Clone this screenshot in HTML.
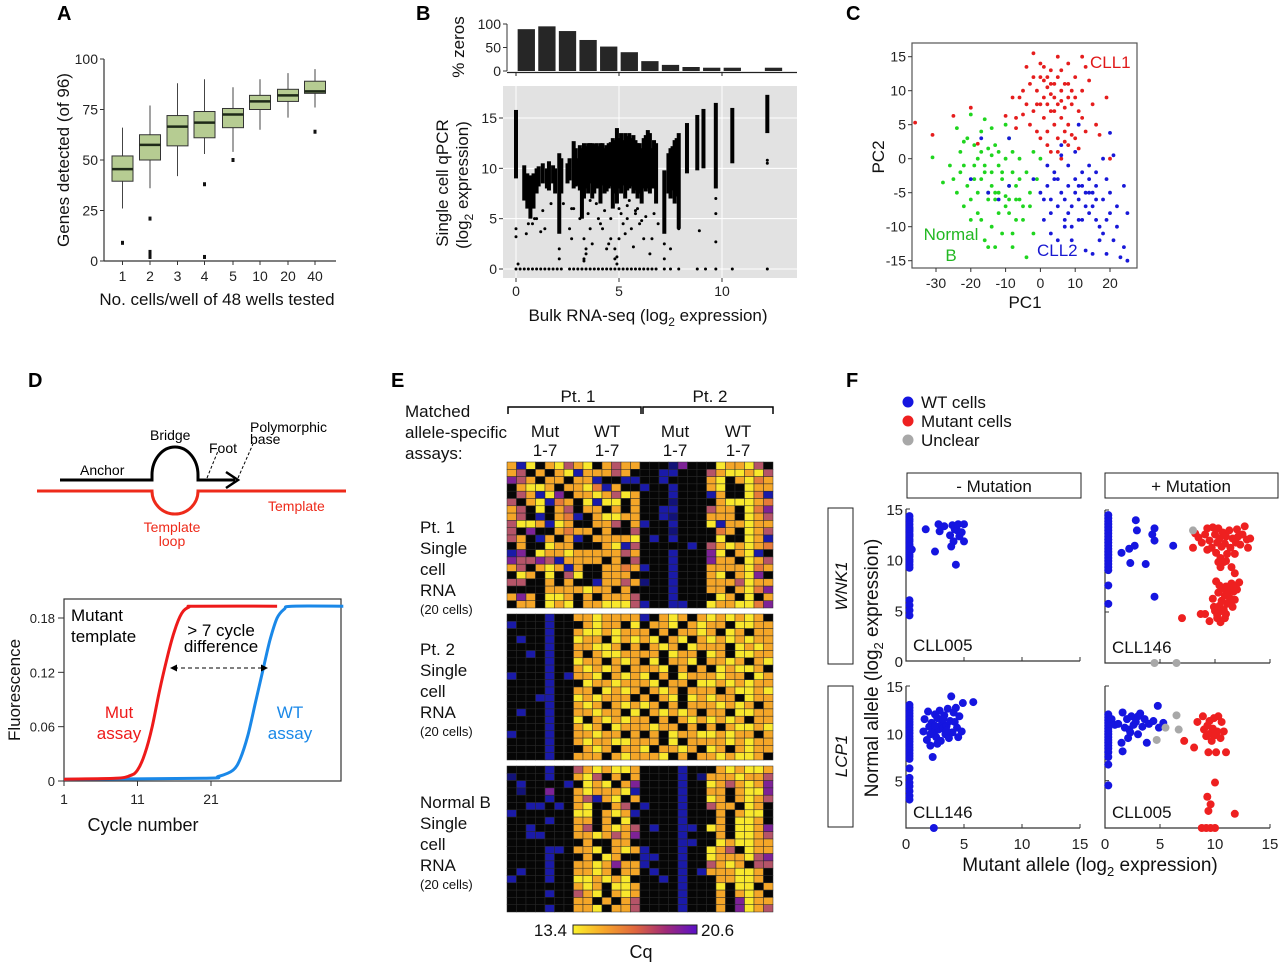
<!DOCTYPE html>
<html><head><meta charset="utf-8"><style>
html,body{margin:0;padding:0;background:#fff}
svg{display:block;font-family:"Liberation Sans",Arial,sans-serif}
</style></head><body>
<svg id="fig" width="1280" height="963" viewBox="0 0 1280 963" xmlns="http://www.w3.org/2000/svg">
<g font-weight="bold" font-size="20" fill="#000">
<text x="57" y="20">A</text>
<text x="416" y="20">B</text>
<text x="846" y="20">C</text>
<text x="28" y="387">D</text>
<text x="391" y="387">E</text>
<text x="846" y="387">F</text>
</g>
<g id="pA"></g>
<g id="pB"></g>
<g id="pC"></g>
<g id="pD"></g>
<g id="pE"></g>
<g id="pF"></g>
</svg>
<script>
// ---------- Panel A data ----------
const aCats=["1","2","3","4","5","10","20","40"];
const aQ1=[39.5,50,57,61,66,75,79,83];
const aMed=[45.5,57.5,66.5,68.5,72.5,79,82,84];
const aQ3=[52,62.5,72,74,75.5,82,85,89];
const aLo=[26,36,42,53,54,65,71,76];
const aHi=[66,77,88,90,86,90,93,95];
const aOut=[[9],[21,4.5,3,2],[],[38,2],[50],[],[],[64]];
const aTicks=[0,25,50,75,100];
// ---------- Panel B data ----------
const bBarX=[0,1,2,3,4,5,6,7,8,9,10,12];
const bBarPct=[89,95,85,66,52,40,21,13,8.5,7,7,7];
const bColX=[0,0.4,0.7,1.0,1.3,1.6,1.9,2.1,2.2,2.8,3.0,3.2,3.3,3.5,3.7,3.9,4.1,4.3,4.5,4.7,4.9,5.1,5.3,5.5,5.7,5.9,6.1,6.4,6.6,6.8,7.2,7.5,7.7,7.9,8.3,8.8,9.1,9.7,10.5,12.2,
 2.5,2.6,2.9,3.1,3.4,3.6,3.8,4.0,4.2,4.4,4.6,4.8,5.0,5.2,5.4,5.6,5.8,6.0,6.2,6.3,6.5,6.7,7.4,7.6,7.8,1.1,1.5,1.8,0.55,0.85];
const bColLo=[9,6.8,5,7.5,8.5,7.8,7.5,3.5,7.5,8,8.3,5,7,7.5,7,8,6.5,7.5,8,6,6.5,7.5,7,8,7.5,7,6.5,8,8,6.5,3.5,7,6.5,4,9.5,9.8,10,8,10.5,13.5,
 8.5,8.8,8.2,7.8,8,8.5,7.5,8,8.3,7.7,8.2,7.5,8,8.3,7.8,8.2,7.8,7.5,8,7.7,7.5,8,7.5,7.8,7.2,8.2,8,8.5,6,6];
const bColHi=[15.8,10.3,9.3,10,10.5,10.7,10,11.5,11,12.7,11,12,12.5,12.5,12.5,12.5,12.5,12,12.5,13,14,13.5,13.5,13.5,13.3,12.5,12,13.8,12,12.5,9.8,12,12.8,13.5,14.5,15.3,15.9,16.5,16,17.3,
 10.5,11,12,12.3,12.2,12.5,12.4,12.2,12.5,12.3,12.6,12.8,13,12.8,13.2,13,12.8,12.5,13,13.3,13.5,12.8,11.5,12.2,13,10.2,10,10.3,9.5,9.5];
const bPtX=[0,0,0.1,0.5,0.6,0.9,1.2,1.4,2.1,2.1,2.6,2.7,2.8,3.1,3.3,3.3,3.4,3.5,3.6,4.0,4.2,4.4,4.6,4.8,4.8,4.9,5.0,5.2,5.4,5.6,5.8,6.0,6.2,6.5,6.6,6.9,7.2,7.2,7.5,7.9,8.9,9.7,9.7,9.7,12.2,12.2,3.4,4.5,4.9,5.3,6.1,2.7,3.3,1.0,3.7,5.7,3.9,4.3,4.7,5.1,5.5,5.9,6.3,3.6,4.1,4.6,5.0,5.4,5.8,6.7,2.3,1.7,0.8,1.3];
const bPtY=[3.2,4,0.5,3.5,4.5,5,3.7,4,1,2,4,6,6,5,3,1,2,5.5,4,5,4,2,3,2,1,0.5,3,4.5,5,4,5.5,4.5,3,1.5,3,4.5,1,2.5,2,4,3.8,2.7,5.5,7,10.5,10.8,1.5,2.5,1.2,3.5,4.8,3,0.8,5,2.5,2.2,6.5,5.8,6.2,5.5,6.8,6,5.2,6.8,4.5,5,6,6.3,5.8,5.5,6.5,6.5,4.5,5.8];
const bZeroX=[0,0.2,0.4,0.6,0.8,1.0,1.2,1.4,1.6,1.8,2.0,2.2,2.6,2.8,3.0,3.2,3.4,3.6,3.8,4.0,4.2,4.4,4.6,4.8,5.0,5.2,5.4,5.6,5.8,6.0,6.2,6.4,6.6,6.8,7.2,7.5,7.9,8.8,9.2,9.7,10.5,12.2];
// ---------- Panel C data ----------
const cRed=[[-2,15.5],[-4,13.5],[0,14],[2,12],[3,13],[5,15],[8,14],[12,15],[13,13.5],[-5,10],[-3,11],[-1,10],[0,12],[1,9],[2,10.5],[3,11],[4,9],[5,12],[6,10],[7,11],[8,9],[9,10],[10,12],[-6,9],[-4,8],[-2,7],[0,8],[1,6],[3,7],[4,5],[5,8],[6,6],[7,7.5],[8,5],[9,8],[11,7],[12,6],[14,11.5],[15,8],[16,5],[19,9],[-8,9],[-7,6],[-3,5],[-1,4],[0,3],[2,4],[5,3],[7,4],[8,2],[10,3],[3,1],[5,1],[6,0],[9,3.5],[17,3.5],[-36,5.3],[-31,3.5],[-25,6.3],[-20,7.5],[-18,2.2],[-10,6.3],[-7,4.5],[2,2],[4,11],[6,13],[1,11.5],[-1,8],[7,2.5],[20,0],[13,4],[11,1.5],[3,9.5],[2,8],[4,7],[-2,12],[1,13.5],[6,8.5],[8,11],[-5,6.5],[10,9],[12,10]];
const cGreen=[[-31,0.2],[-28,-3.5],[-24,4.5],[-23,1],[-22,-1],[-21,3],[-20,6.5],[-19,-3],[-18,0],[-17,4],[-16,5.8],[-16,-2],[-15,1.5],[-14,-4],[-13,-5],[-13,2],[-12,-1],[-11,-3],[-10,0],[-9,-6],[-9,3],[-8,-2],[-7,-4],[-6,0],[-5,-7],[-4,-2],[-3,-5],[-22,-7],[-20,-9],[-18,-5],[-17,-9],[-15,-6],[-14,-10],[-12,-8],[-11,-11],[-10,-5.5],[-8,-11],[-7,-6],[-6,-3],[-16,-12],[-15,-13],[-8,-13],[-4,-14.5],[-2,1],[0,0],[-1,-3],[-19,2],[-21,-4],[-23,-2],[-25,-3],[-14,4.5],[-10,5],[-12,-5],[-13,-6],[-15,-5],[-11,-2],[-9,-4],[-16,-1],[-17,1],[-5,-9],[-2,-11],[-20,-6],[-18,-8],[-24,-5],[-26,-1],[-13,-13],[-3,-7],[-7,-9],[-9,-8],[-14,-2],[-12,1],[-17,-3],[-10,-7],[-6,-6],[-19,-1],[-14,0.5],[-8,1],[-22,2.5]];
const cBlue=[[0,-5],[1,-6],[2,-4],[3,-8],[4,-3],[5,-7],[6,-5],[7,-9],[8,-4],[9,-7],[10,-3],[11,-6],[12,-9],[13,-5],[14,-3],[15,-7],[16,-4],[17,-10],[18,-6],[19,-9],[20,-5],[22,-7],[24,-4],[25,-8],[3,-11],[5,-12],[7,-10],[9,-12],[13,-13.5],[15,-14],[17,-12],[19,-14],[21,-12],[23,-14.5],[25,-15],[24,-13],[2,-1],[4,-2],[6,0.5],[8,-1],[10,1],[12,-2],[14,-1],[16,-2],[18,0],[21,0.5],[20,3.8],[11,5],[6,2],[1,-9],[3,-6],[11,-9],[13,-7],[15,-5],[14,-8],[18,-11],[22,-10],[16,-9],[10,-5],[8,-8],[-20,-3],[-15,-5],[-12,-6],[-9,-4],[-17,3],[-9,3],[-2,-3],[5,-3],[7,-6],[12,-4],[19,-3],[14,-5],[16,-6],[11,-4],[9,-10],[20,-8]];
// ---------- Panel D data ----------
const dMutCyc=[1,8,10,11,12,13,14,15,16,17,18,19,30];
const dMutF=[0.002,0.003,0.006,0.012,0.03,0.06,0.1,0.135,0.165,0.185,0.192,0.193,0.193];
const dWtCyc=[1,20,22,24,25,26,27,28,29,30,31,32,39];
const dWtF=[0.002,0.003,0.005,0.012,0.025,0.05,0.085,0.12,0.155,0.18,0.19,0.193,0.193];
// ---------- Panel E data ----------
const eBlock1=["oby0oym|oy0omoo|000Bp00|0yooym0","om0o0oy|booomo0|00bb000|moyyoym","pmo0oo0|oob00bb|00b0000|oy0oyro","0oyyo0o|oyrbo00|b00b000|oy00yoo","0mobyp0|ooyomyo|000b000|bo00yrb","m0oybro|0ybyy0o|000B000|0oyyyor","om0y0om|0oo0o0o|00bb000|moo0yrp","om0b0or|b0oyyoo|00bB000|ooo0yom","myyobyo|00oom0o|b00b000|ybooyoo","m0p00or|oo0o00m|000B000|0ro0yom","mo0bo0o|b0ooooy|0b0b000|0y00yob","0o00yoo|000oybm|00000b0|moyoyor","bp0yooy|ooooomo|000b000|py0oyb0","pmmpmbo|ooo0o0m|000b000|poo0yom","om0oyob|o00ooro|b00b000|ooooyro","0yo0y0m|y00ooo0|000b000|oy0oyp0","mm00o0o|00boomo|B00b000|ooomyoo","0000ooo|oyoo0o0|000b000|oo0oyrp","opo0yyo|0o0ooom|000b000|0yo0y0o","0oo0yoy|0ooyyym|b00bb00|yooyyrp"];
const eBlock2=["0000b00|ooyoooo|b0oyo0o|yoyoyo0","b000b00|0oyoo0y|0ooy0oy|oo0yyoo","0000b00|oyyoyoo|o0o0ooy|o0yo0oo","0b00b00|yoo0yoy|oy0oy0o|yoyoyoo","0000b00|ooyyo0o|0oyo0yo|oo0yoyo","00b0b00|o0oyyoo|oo0yoo0|yo0yyoo","0000b00|yoo0oyo|0y0ooy0|ooyo0oy","0000b00|oyoyo0o|ooy0o0o|0yoyyo0","b000b0b|ooy0oyo|y0o0yoo|oyoo0yo","0000b00|0yooyoo|oy0oo0y|yoyoyoo","0000b00|oo0yoyo|0oyo0oo|o0oyyoy","000bb00|yoyooo0|o0oy0yo|yoo0yoo","0000b00|oyo0oyo|yo0o0oo|oyoyo0o","0b00b00|ooyoo0y|0oyoyo0|oo0yyoo","0000b00|y0oyoyo|o0o0oyo|yoyo0oo","0000b00|oyo0yoo|oyoo0o0|o0oyyoy","b000b00|ooyoo0o|0o0yooy|yoyoo0o","0000b00|oyooyyo|oo0y0oo|ooyoyoo","0000b00|0oyo0oo|y0ooyo0|yo0oyoo","0000b00|ooo0oyo|ooy0o0o|oyoyyo0"];
const eBlock3=["0000b00|moyoyyo|0000b00|0oyoyyo","B000b00|oym0o0o|0000b0B|oooyoom","0b0000b|0yoy0op|0000b00|yomoyop","0B00p00|oyoooyb|0000b00|oo0oyyp","0000b00|omboy0o|0000b00|yo0oyom","00bb0b0|oy00om0|b000b00|moo0yo0","b000000|yy0oyob|0000b00|0o0oyy0","0000b00|oo0o0y0|0000b00|0o0yyo0","00b0000|om0oyom|0b00bb0|yo0yyop","00bb000|ooyomop|0000b00|0o0yyom","0000000|0o00oo0|0000bb0|0yoyyoo","0000bb0|ooy0oyo|b000b00|yom0yoo","0000b00|0o0yo00|bb00b00|yoooymp","0000b00|ooyopoo|b000b00|moyo0mm","0b00b00|ooyo0oo|0b00b0b|oooyyo0","b000b00|yyoyoy0|00b0b00|0ooyyo0","0000000|oyo0yyo|0000b00|0y0yy0o","0000b00|moy0oyo|0000b00|0o0oyo0","0000000|oo0o0om|0000b00|0o0pyoo","0000b00|ooy0oom|0000b00|0o0pyom"];
// ---------- Panel F data ----------
const fWnkNegBlue=[[0,14.3],[0,14],[0,13.8],[0,13.5],[0,13.2],[0,13],[0,12.8],[0,12.5],[0,12.3],[0,12],[0,11.8],[0,11.5],[0,11.3],[0,11],[0,10.8],[0,10.5],[0,10.3],[0,10],[0,9.8],[0,9.5],[0,9.2],[0,6],[0,5.5],[0,5],[0,4.5],[0.5,11],[1.7,13],[2.5,10.8],[2.8,13.5],[2.9,12.8],[3.3,13.3],[3.8,12.4],[4,13.4],[4.1,11.8],[4.2,13],[4.3,9.5],[4.4,12.9],[4.5,13.5],[4.8,12.7],[5,11.8],[5,13.5],[4.6,12.3],[3.9,11.3]];
const fWnkPosBlue=[[0,14.5],[0,14.2],[0,13.9],[0,13.6],[0,13.3],[0,13],[0,12.7],[0,12.4],[0,12.1],[0,11.8],[0,11.5],[0,11.2],[0,10.9],[0,10.6],[0,10.3],[0,10],[0,9.7],[0,9.4],[0,9.1],[0,7.6],[0,5.8],[1.5,10.8],[2.2,11.2],[2.3,9.8],[2.7,11.5],[2.8,14],[2.9,13],[3.7,9.7],[4.3,12.6],[4.5,13.2],[4.5,12],[4.5,6.5],[6.2,11.5]];
const fWnkPosGrey=[[8,13],[4.5,0],[6.5,0]];
const fWnkPosRed=[[8,11.3],[8.2,12.7],[8.5,12.3],[8.8,11.8],[9.1,12.6],[9.3,13.2],[9.5,12],[9.7,11.3],[9.8,13.3],[10,12.6],[10.1,10.8],[10.2,11.8],[10.3,13.2],[10.4,12.2],[10.5,10.3],[10.6,11.4],[10.7,12.8],[10.8,9.9],[10.9,11.7],[11,12.4],[11.1,10.7],[11.3,13],[11.4,11.3],[11.5,9.4],[11.6,12.2],[11.8,10.7],[11.9,11.8],[12,13.1],[12.1,12.4],[12.3,11.6],[12.5,12.6],[12.7,13.4],[12.9,12.1],[13,11.3],[13.2,12.2],[10.5,9.4],[11,10],[9.3,11.1],[11.8,8.8],[10.3,9.9],
[7,4.4],[8.7,4.8],[9.1,4.8],[9.5,4.1],[9.8,6.3],[10,5.1],[10.1,8],[10.2,4.4],[10.3,6.9],[10.4,5.6],[10.5,4],[10.6,6.1],[10.7,7.3],[10.8,5.2],[10.9,6.6],[11,7.5],[11.1,5.8],[11.2,6.9],[11.3,7.2],[11.4,6.3],[11.5,7.8],[11.6,5.5],[11.7,7],[11.8,6.2],[11.9,7.6],[12,7.2],[12.2,7.9],[10.2,4.7],[10.6,5.1],[11,4.8],[11.3,6],[10.4,7.6],[11.7,7.4],[10.9,4.4],[9.9,5.5]];
const fLcpNegBlue=[[0,13],[0,12.7],[0,12.4],[0,12.1],[0,11.8],[0,11.5],[0,11.2],[0,10.9],[0,10.6],[0,10.3],[0,10],[0,9.7],[0,9.4],[0,9.1],[0,8.8],[0,8.5],[0,8.2],[0,7.9],[0,7.6],[0,7.3],[0,6.3],[0,5.3],[0,4.8],[0,4.4],[0,3.9],[0,3.4],[0,3],[2.4,0],
[1.5,10.2],[1.6,11.5],[1.8,9.3],[1.9,12.3],[2,10.7],[2.1,8.7],[2.2,11.1],[2.3,7.5],[2.4,10.1],[2.5,12],[2.6,9.6],[2.7,11.6],[2.8,10.4],[2.9,12.4],[3,9.2],[3.1,11],[3.2,10.5],[3.3,11.9],[3.4,9.9],[3.5,10.8],[3.6,12.6],[3.7,9.5],[3.8,11.3],[3.9,13.9],[4,10.1],[4.1,12.2],[4.2,11.2],[4.3,12.7],[4.4,10.6],[4.5,9.6],[4.6,11.8],[4.8,10.2],[4.9,13.2],[5.8,13.3],[2.1,9.9],[2.7,8.9],[3.2,11.5],[2.5,10.8],[3.5,10.3]];
const fLcpPosBlue=[[0,12],[0,11.7],[0,11.4],[0,11.1],[0,10.8],[0,10.5],[0,10.2],[0,9.9],[0,9.6],[0,9.3],[0,9],[0,8.7],[0,8.4],[0,8],[0,7.5],[0,6.7],[0,4.5],[0.6,11.5],[0.9,10.9],[1.2,11],[1.5,9],[1.6,12.2],[1.6,8.1],[1.8,10.6],[2,11.5],[2.1,9.5],[2.2,10.4],[2.4,11.8],[2.6,10.9],[2.8,11.2],[3,9.9],[3.2,12.1],[3.4,10.7],[3.6,11.5],[3.8,9],[4,11],[4.4,11.3],[4.8,12.9],[4.9,10.6],[5.3,11.1],[3,11.8],[2.3,10.1]];
const fLcpPosGrey=[[4.7,9.3],[5.5,10.6],[6.5,11.9],[6.7,10.4]];
const fLcpPosRed=[[7.2,9.2],[8.1,8.5],[8.4,11.2],[8.9,11.8],[9,10.4],[9.2,9.7],[9.3,10.8],[9.5,11.3],[9.6,10],[9.7,9.2],[9.8,10.5],[9.9,11.6],[10,9.8],[10.1,8],[10.2,10.2],[10.3,11.8],[10.5,9.5],[10.6,11.2],[10.8,10.2],[9.4,8],[10,4.8],[9.3,3.3],[9.6,2.5],[9.4,1.8],[11.8,1.5],[11,8],[8.8,0],[9.2,0],[9.6,0],[10,0]];

// ---------- helpers ----------
const NS="http://www.w3.org/2000/svg";
function mk(parent,tag,attrs,txt){const e=document.createElementNS(NS,tag);for(const k in attrs)e.setAttribute(k,attrs[k]);if(txt!==undefined)e.textContent=txt;parent.appendChild(e);return e;}
function lin(d0,d1,r0,r1){return v=>r0+(v-d0)*(r1-r0)/(d1-d0);}

// ================= Panel A =================
(function(){
const g=document.getElementById('pA');
const y=lin(0,100,261,59);
const xs=[122.5,150,177.5,204.5,233,260,288,315];
let e;
e=mk(g,'line',{x1:104,y1:59,x2:104,y2:261,stroke:'#333','stroke-width':1.2});


e=mk(g,'line',{x1:104,y1:261,x2:336,y2:261,stroke:'#333','stroke-width':1.2});


aTicks.forEach(t=>{
 mk(g,'line',{x1:100,x2:104,y1:y(t),y2:y(t),stroke:'#333'});
 e=mk(g,'text',{x:98,y:y(t)+5,'font-size':14,'text-anchor':'end',fill:'#222'},String(t));
 
 
});
aCats.forEach((c,i)=>{
 const x=xs[i];
 mk(g,'line',{x1:x,x2:x,y1:261,y2:265,stroke:'#333'});
 e=mk(g,'text',{x:x,y:281,'font-size':14,'text-anchor':'middle',fill:'#222'},c);
 
 
 mk(g,'line',{x1:x,x2:x,y1:y(aLo[i]),y2:y(aHi[i]),stroke:'#444','stroke-width':1});
 e=mk(g,'rect',{x:x-10.5,y:y(aQ3[i]),width:21,height:y(aQ1[i])-y(aQ3[i]),fill:'#b6cc92',stroke:'#333','stroke-width':1});
 
 
 mk(g,'line',{x1:x-10.5,x2:x+10.5,y1:y(aMed[i]),y2:y(aMed[i]),stroke:'#1e2a18','stroke-width':2.5});
 aOut[i].forEach(o=>{
  e=mk(g,'rect',{x:x-1.5,y:y(o)-2,width:3,height:4,fill:'#111'});
  
  
 });
});
e=mk(g,'text',{x:217,y:305,'font-size':17,'text-anchor':'middle',fill:'#111'},'No. cells/well of 48 wells tested');


e=mk(g,'text',{x:0,y:0,'font-size':17,'text-anchor':'middle',fill:'#111',transform:'translate(69,160) rotate(-90)'},'Genes detected (of 96)');


})();

// ================= Panel B =================
(function(){
const g=document.getElementById('pB');
const x=lin(0,10,516,722);
const yb=lin(0,100,71,24);
const y=lin(0,15,269,118);
let e;
e=mk(g,'line',{x1:507,y1:24,x2:507,y2:71,stroke:'#333'});


[0,50,100].forEach(t=>{
 mk(g,'line',{x1:503,x2:507,y1:yb(t),y2:yb(t),stroke:'#333'});
 e=mk(g,'text',{x:501,y:yb(t)+5,'font-size':14,'text-anchor':'end',fill:'#222'},String(t));
 
 
});
bBarX.forEach((b,i)=>{
 e=mk(g,'rect',{x:x(b+0.08),y:yb(bBarPct[i]),width:x(b+0.92)-x(b+0.08),height:yb(0)-yb(bBarPct[i]),fill:'#262626'});
 
 
});
e=mk(g,'line',{x1:507,y1:72.5,x2:797,y2:72.5,stroke:'#222','stroke-width':1.3});


[0,5,10].forEach(t=>mk(g,'line',{x1:x(t),x2:x(t),y1:72,y2:76,stroke:'#222'}));
e=mk(g,'text',{x:0,y:0,'font-size':17,'text-anchor':'middle',fill:'#111',transform:'translate(464,47) rotate(-90)'},'% zeros');


e=mk(g,'rect',{x:503,y:86,width:294,height:192,fill:'#e2e2e2'});


[0,5,10,15].forEach(t=>{
 mk(g,'line',{x1:503,x2:797,y1:y(t),y2:y(t),stroke:'#fff','stroke-width':1});
 mk(g,'line',{x1:499,x2:503,y1:y(t),y2:y(t),stroke:'#333'});
 e=mk(g,'text',{x:497,y:y(t)+5,'font-size':14,'text-anchor':'end',fill:'#222'},String(t));
 
 
});
[0,5,10].forEach(t=>{
 mk(g,'line',{x1:x(t),x2:x(t),y1:86,y2:278,stroke:'#fff','stroke-width':1});
 mk(g,'line',{x1:x(t),x2:x(t),y1:278,y2:282,stroke:'#333'});
 e=mk(g,'text',{x:x(t),y:296,'font-size':14,'text-anchor':'middle',fill:'#222'},String(t));
 
 
});
bColX.forEach((c,i)=>{
 e=mk(g,'rect',{x:x(c)-2,y:y(bColHi[i]),width:4,height:y(bColLo[i])-y(bColHi[i]),fill:'#000'});
 
 
});
bPtX.forEach((p,i)=>{
 e=mk(g,'circle',{cx:x(p),cy:y(bPtY[i]),r:1.5,fill:'#000'});
 
 
});
bZeroX.forEach(p=>{
 e=mk(g,'circle',{cx:x(p),cy:y(0),r:1.5,fill:'#000'});
 
 
});
e=mk(g,'text',{x:648,y:321,'font-size':17,'text-anchor':'middle',fill:'#111'});
e.innerHTML='Bulk RNA-seq (log<tspan dy="5" font-size="12">2</tspan><tspan dy="-5"> expression)</tspan>';


e=mk(g,'text',{x:0,y:0,'font-size':17,'text-anchor':'middle',fill:'#111',transform:'translate(448,183) rotate(-90)'},'Single cell qPCR');


e=mk(g,'text',{x:0,y:0,'font-size':17,'text-anchor':'middle',fill:'#111',transform:'translate(468,185) rotate(-90)'});
e.innerHTML='(log<tspan dy="5" font-size="12">2</tspan><tspan dy="-5"> expression)</tspan>';


})();

// ================= Panel C =================
(function(){
const g=document.getElementById('pC');
const x=lin(-30,20,936,1110);
const y=lin(-15,15,260.7,56.7);
let e;
e=mk(g,'rect',{x:912,y:43,width:225,height:225,fill:'none',stroke:'#555','stroke-width':1.2});


[-15,-10,-5,0,5,10,15].forEach(t=>{
 mk(g,'line',{x1:908,x2:912,y1:y(t),y2:y(t),stroke:'#333'});
 e=mk(g,'text',{x:906,y:y(t)+5,'font-size':14,'text-anchor':'end',fill:'#222'},String(t));
 
 
});
[-30,-20,-10,0,10,20].forEach(t=>{
 mk(g,'line',{x1:x(t),x2:x(t),y1:268,y2:272,stroke:'#333'});
 e=mk(g,'text',{x:x(t),y:288,'font-size':14,'text-anchor':'middle',fill:'#222'},String(t));
 
 
});
function pts(arr,col,name){arr.forEach(p=>{
 e=mk(g,'circle',{cx:x(p[0]),cy:y(p[1]),r:1.9,fill:col});
 
 
});}
pts(cGreen,'#1fd51f','c-point-normal-b');
pts(cRed,'#e51d1d','c-point-cll1');
pts(cBlue,'#1818d8','c-point-cll2');
e=mk(g,'text',{x:1090,y:68,'font-size':17,fill:'#e01818'},'CLL1');


e=mk(g,'text',{x:1037,y:256,'font-size':17,fill:'#1818d0'},'CLL2');


e=mk(g,'text',{x:951,y:240,'font-size':17,fill:'#22b822','text-anchor':'middle'},'Normal');


e=mk(g,'text',{x:951,y:261,'font-size':17,fill:'#22b822','text-anchor':'middle'},'B');


e=mk(g,'text',{x:1025,y:308,'font-size':17,'text-anchor':'middle',fill:'#111'},'PC1');


e=mk(g,'text',{x:0,y:0,'font-size':17,'text-anchor':'middle',fill:'#111',transform:'translate(884,157) rotate(-90)'},'PC2');


})();

// ================= Panel D =================
(function(){
const g=document.getElementById('pD');
let e;
e=mk(g,'path',{d:'M37 491 H152 A23 23 0 0 0 198 491 H346',fill:'none',stroke:'#ee2a1a','stroke-width':3});


e=mk(g,'path',{d:'M60 480 H152 V475 A23 28 0 0 1 198 475 V480 H235',fill:'none',stroke:'#000','stroke-width':3});


e=mk(g,'path',{d:'M226 472 L238 480 L226 488',fill:'none',stroke:'#000','stroke-width':2.5});


mk(g,'line',{x1:207,y1:478,x2:218,y2:451,stroke:'#000','stroke-dasharray':'3,2'});
mk(g,'line',{x1:238,y1:478,x2:253,y2:444,stroke:'#000','stroke-dasharray':'3,2'});
const lab=[['Anchor',80,475,'#000','d-label-anchor'],['Bridge',150,440,'#000','d-label-bridge'],['Foot',209,453,'#000','d-label-foot'],['Polymorphic',250,432,'#000','d-label-polymorphic'],['base',250,444,'#000','d-label-base'],['Template',268,511,'#ee2a1a','d-label-template']];
lab.forEach(l=>{e=mk(g,'text',{x:l[1],y:l[2],'font-size':14,fill:l[3]},l[0]);
 
 });
e=mk(g,'text',{x:172,y:532,'font-size':14,fill:'#ee2a1a','text-anchor':'middle'},'Template');


e=mk(g,'text',{x:172,y:546,'font-size':14,fill:'#ee2a1a','text-anchor':'middle'},'loop');


const x=lin(1,21,64,211);
const y=lin(0,0.18,781,618);
e=mk(g,'rect',{x:64,y:599,width:277,height:182,fill:'none',stroke:'#333','stroke-width':1.2});


[0,0.06,0.12,0.18].forEach(t=>{
 mk(g,'line',{x1:58,x2:64,y1:y(t),y2:y(t),stroke:'#333'});
 e=mk(g,'text',{x:55,y:y(t)+5,'font-size':13,'text-anchor':'end',fill:'#222'},t===0?'0':t.toFixed(2));
 
 
});
[1,11,21].forEach(t=>{
 mk(g,'line',{x1:x(t),x2:x(t),y1:781,y2:786,stroke:'#333'});
 e=mk(g,'text',{x:x(t),y:804,'font-size':14,'text-anchor':'middle',fill:'#222'},String(t));
 
 
});
function curve(cs,fs,col,name){
 const P=cs.map((c,i)=>[x(c),y(fs[i])]);
 let d='M'+P[0][0].toFixed(1)+' '+P[0][1].toFixed(1);
 for(let i=0;i<P.length-1;i++){
  const p0=P[Math.max(0,i-1)],p1=P[i],p2=P[i+1],p3=P[Math.min(P.length-1,i+2)];
  const c1=[p1[0]+(p2[0]-p0[0])/6,p1[1]+(p2[1]-p0[1])/6];
  const c2=[p2[0]-(p3[0]-p1[0])/6,p2[1]-(p3[1]-p1[1])/6];
  d+=` C${c1[0].toFixed(1)} ${c1[1].toFixed(1)} ${c2[0].toFixed(1)} ${c2[1].toFixed(1)} ${p2[0].toFixed(1)} ${p2[1].toFixed(1)}`;
 }
 e=mk(g,'path',{d:d,fill:'none',stroke:col,'stroke-width':3,'stroke-linejoin':'round'});
 
 
}
curve(dWtCyc,dWtF,'#1a88e8','d-wt-curve');
curve(dMutCyc,dMutF,'#ee1a1a','d-mut-curve');
e=mk(g,'line',{x1:174,y1:668,x2:264,y2:668,stroke:'#000','stroke-dasharray':'4,3'});


mk(g,'path',{d:'M170 668 l7 -3.5 v7 z',fill:'#000'});
mk(g,'path',{d:'M268 668 l-7 -3.5 v7 z',fill:'#000'});
const t2=[['Mutant',71,621,'#000','start','d-label-mutant'],['template',71,642,'#000','start','d-label-template2'],['> 7 cycle',221,636,'#000','middle','d-label-cycle'],['difference',221,652,'#000','middle','d-label-difference'],['Mut',119,718,'#ee1a1a','middle','d-label-mut'],['assay',119,739,'#ee1a1a','middle','d-label-mut-assay'],['WT',290,718,'#1a88e8','middle','d-label-wt'],['assay',290,739,'#1a88e8','middle','d-label-wt-assay']];
t2.forEach(l=>{e=mk(g,'text',{x:l[1],y:l[2],'font-size':17,fill:l[3],'text-anchor':l[4]},l[0]);
 
 });
e=mk(g,'text',{x:143,y:831,'font-size':18,'text-anchor':'middle',fill:'#111'},'Cycle number');


e=mk(g,'text',{x:0,y:0,'font-size':17,'text-anchor':'middle',fill:'#111',transform:'translate(20,690) rotate(-90)'},'Fluorescence');


})();

// ================= Panel E =================
(function(){
const g=document.getElementById('pE');
const pal={'0':'#060606','b':'#1a1aa8','B':'#121278','y':'#f9e82c','o':'#f4a628','r':'#e57a3a','m':'#b55468','p':'#7d2296'};
const x0=507,cw=(773-507)/28,ch=7.3;
const tops=[462,614,766];
let e;
[eBlock1,eBlock2,eBlock3].forEach((blk,bi)=>{
 blk.forEach((row,ri)=>{
  const s=row.replace(/\|/g,'');
  for(let ci=0;ci<28;ci++){
   e=mk(g,'rect',{x:(x0+ci*cw).toFixed(2),y:(tops[bi]+ri*ch).toFixed(2),width:cw.toFixed(2),height:ch.toFixed(2),fill:pal[s[ci]]||'#060606',stroke:'#2a2a2a','stroke-width':0.5});
   
   
  }
 });
});
e=mk(g,'path',{d:'M508 414 V407 H641 V414 M643 414 V407 H773 V414',fill:'none',stroke:'#000','stroke-width':1.5});


const t=[['Pt. 1',578,402,'middle',17,'e-label-pt1'],['Pt. 2',710,402,'middle',17,'e-label-pt2'],['Matched',405,417,'start',17,'e-label-matched'],['allele-specific',405,438,'start',17,'e-label-allele'],['assays:',405,459,'start',17,'e-label-assays'],
['Mut',545,437,'middle',17,'e-col-mut1'],['1-7',545,456,'middle',17,'e-col-mut1-range'],['WT',607,437,'middle',17,'e-col-wt1'],['1-7',607,456,'middle',17,'e-col-wt1-range'],['Mut',675,437,'middle',17,'e-col-mut2'],['1-7',675,456,'middle',17,'e-col-mut2-range'],['WT',738,437,'middle',17,'e-col-wt2'],['1-7',738,456,'middle',17,'e-col-wt2-range'],
['Pt. 1',420,533,'start',17,'e-row-pt1'],['Single',420,554,'start',17,'e-row-single1'],['cell',420,575,'start',17,'e-row-cell1'],['RNA',420,596,'start',17,'e-row-rna1'],['(20 cells)',420,614,'start',13,'e-row-count1'],
['Pt. 2',420,655,'start',17,'e-row-pt2'],['Single',420,676,'start',17,'e-row-single2'],['cell',420,697,'start',17,'e-row-cell2'],['RNA',420,718,'start',17,'e-row-rna2'],['(20 cells)',420,736,'start',13,'e-row-count2'],
['Normal B',420,808,'start',17,'e-row-normal'],['Single',420,829,'start',17,'e-row-single3'],['cell',420,850,'start',17,'e-row-cell3'],['RNA',420,871,'start',17,'e-row-rna3'],['(20 cells)',420,889,'start',13,'e-row-count3'],
['13.4',567,936,'end',17,'e-colorbar-min'],['20.6',701,936,'start',17,'e-colorbar-max'],['Cq',641,958,'middle',18,'e-colorbar-title']];
t.forEach(l=>{e=mk(g,'text',{x:l[1],y:l[2],'font-size':l[4],'text-anchor':l[3],fill:'#111'},l[0]);
 
 });
const defs=mk(g,'defs',{});
const lg=mk(defs,'linearGradient',{id:'cq',x1:0,x2:1,y1:0,y2:0});
[['0','#fbf22c'],['0.25','#f7a62a'],['0.5','#e0663e'],['0.75','#a02a78'],['1','#5a10c8']].forEach(s=>mk(lg,'stop',{offset:s[0],'stop-color':s[1]}));
e=mk(g,'rect',{x:573,y:925,width:124,height:9,fill:'url(#cq)',stroke:'#222','stroke-width':1});


})();

// ================= Panel F =================
(function(){
const g=document.getElementById('pF');
let e;
[['#1515e0','WT cells',402,'f-legend-wt'],['#ee2020','Mutant cells',421,'f-legend-mutant'],['#a8a8a8','Unclear',440,'f-legend-unclear']].forEach(l=>{
 e=mk(g,'circle',{cx:908,cy:l[2],r:5.5,fill:l[0]});
 
 
 e=mk(g,'text',{x:921,y:l[2]+6,'font-size':17,fill:'#111'},l[1]);
 
 
});
e=mk(g,'rect',{x:907,y:473,width:174,height:25,fill:'none',stroke:'#222'});


e=mk(g,'text',{x:994,y:492,'font-size':17,'text-anchor':'middle',fill:'#111'},'- Mutation');


e=mk(g,'rect',{x:1105,y:473,width:173,height:25,fill:'none',stroke:'#222'});


e=mk(g,'text',{x:1191,y:492,'font-size':17,'text-anchor':'middle',fill:'#111'},'+ Mutation');


e=mk(g,'rect',{x:828,y:508,width:25,height:156,fill:'none',stroke:'#222'});


e=mk(g,'text',{x:0,y:0,'font-size':17,'font-style':'italic','text-anchor':'middle',fill:'#111',transform:'translate(847,586) rotate(-90)'},'WNK1');


e=mk(g,'rect',{x:828,y:686,width:25,height:141,fill:'none',stroke:'#222'});


e=mk(g,'text',{x:0,y:0,'font-size':17,'font-style':'italic','text-anchor':'middle',fill:'#111',transform:'translate(847,756) rotate(-90)'},'LCP1');


function panel(ox,oy0,ytop,xw,ylabels,xlabels,label,sets,nm){
 const x=lin(0,15,ox,ox+xw);
 const y=lin(0,15,oy0,ytop);
 e=mk(g,'path',{d:`M${ox} ${ytop} V${oy0} H${ox+xw}`,fill:'none',stroke:'#333','stroke-width':1.2});
 
 
 [0,5,10,15].forEach(t=>{
  mk(g,'line',{x1:x(t),x2:x(t),y1:oy0,y2:oy0-4,stroke:'#333'});
  mk(g,'line',{x1:ox,x2:ox+4,y1:y(t),y2:y(t),stroke:'#333'});
  if(ylabels&&!(ylabels===2&&t===0)){e=mk(g,'text',{x:ox-3,y:y(t)+6,'font-size':15,'text-anchor':'end',fill:'#222'},String(t));
   
   }
  if(xlabels){e=mk(g,'text',{x:x(t),y:oy0+21,'font-size':15,'text-anchor':'middle',fill:'#222'},String(t));
   
   }
 });
 sets.forEach(s=>s[0].forEach(p=>{
  e=mk(g,'circle',{cx:x(p[0]+(p[0]===0?0.3:0)),cy:y(p[1]),r:4,fill:s[1]});
  
  
 }));
 e=mk(g,'text',{x:ox+7,y:oy0-10,'font-size':17,fill:'#111'},label);
 
 
}
panel(906,661,509,174,1,0,'CLL005',[[fWnkNegBlue,'#1515e0','f-point-wt']],'f-wnk1-minus');
panel(1105,663,510,165,0,0,'CLL146',[[fWnkPosBlue,'#1515e0','f-point-wt'],[fWnkPosRed,'#ee2020','f-point-mutant'],[fWnkPosGrey,'#a8a8a8','f-point-unclear']],'f-wnk1-plus');
panel(906,828,686,174,2,1,'CLL146',[[fLcpNegBlue,'#1515e0','f-point-wt']],'f-lcp1-minus');
panel(1105,828,686,165,0,1,'CLL005',[[fLcpPosBlue,'#1515e0','f-point-wt'],[fLcpPosRed,'#ee2020','f-point-mutant'],[fLcpPosGrey,'#a8a8a8','f-point-unclear']],'f-lcp1-plus');
e=mk(g,'text',{x:1090,y:871,'font-size':19,'text-anchor':'middle',fill:'#111'});
e.innerHTML='Mutant allele (log<tspan dy="5" font-size="13">2</tspan><tspan dy="-5"> expression)</tspan>';


e=mk(g,'text',{x:0,y:0,'font-size':19,'text-anchor':'middle',fill:'#111',transform:'translate(878,668) rotate(-90)'});
e.innerHTML='Normal allele (log<tspan dy="5" font-size="13">2</tspan><tspan dy="-5"> expression)</tspan>';


})();
</script>
</body></html>
